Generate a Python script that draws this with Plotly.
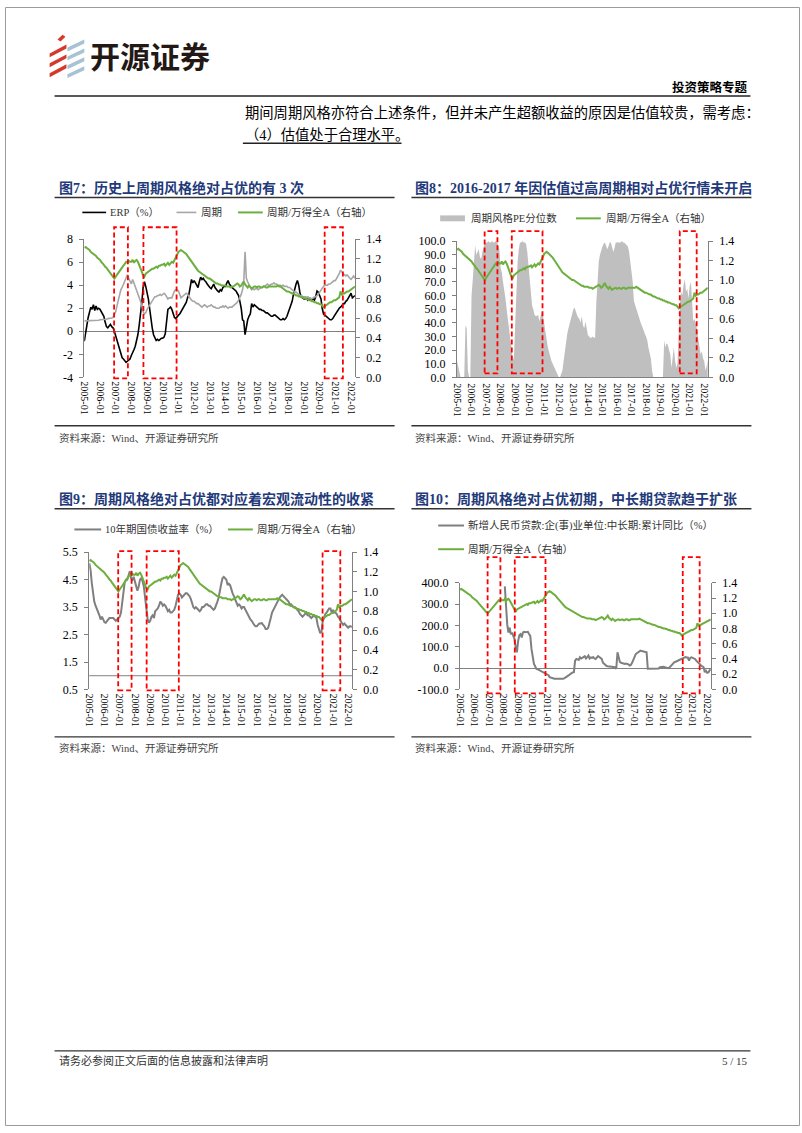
import plotly.graph_objects as go
import pandas as pd

W, H = 802, 1133
SERIF = "Liberation Serif, Noto Sans CJK SC, serif"
NAVY = "#1F3A7A"
GREEN = "#6DAF3E"
RED = "#FF0000"

# ---- data (monthly, 2005-01 .. 2022-04) ----
months = pd.date_range("2005-01-01", "2022-04-01", freq="MS")
years = list(range(2005, 2023))
tick_vals = [f"{y}-01-01" for y in years]
tick_text = [f"{y}-01" for y in years]

# 周期/万得全A (右轴) - same series in all four charts
ratio = [
    1.31, 1.32, 1.31, 1.30, 1.29, 1.27, 1.26, 1.25, 1.24, 1.23, 1.21, 1.20,
    1.19, 1.17, 1.16, 1.14, 1.12, 1.11, 1.09, 1.07, 1.05, 1.03, 1.01, 1.00,
    1.02, 1.04, 1.06, 1.08, 1.10, 1.12, 1.13, 1.15, 1.17, 1.16, 1.18, 1.17,
    1.17, 1.19, 1.16, 1.18, 1.19, 1.17, 1.14, 1.11, 1.07, 1.03, 1.02, 1.05,
    1.06, 1.07, 1.08, 1.09, 1.10, 1.10, 1.11, 1.12, 1.11, 1.13, 1.13, 1.14,
    1.14, 1.15, 1.13, 1.15, 1.16, 1.14, 1.15, 1.17, 1.16, 1.19, 1.22, 1.24,
    1.27, 1.28, 1.29, 1.28, 1.27, 1.26, 1.25, 1.23, 1.21, 1.19, 1.17, 1.15,
    1.13, 1.11, 1.10, 1.08, 1.07, 1.06, 1.05, 1.04, 1.03, 1.02, 1.01, 1.00,
    1.00, 0.99, 0.98, 0.97, 0.96, 0.95, 0.95, 0.94, 0.94, 0.93, 0.93, 0.93,
    0.93, 0.92, 0.92, 0.92, 0.91, 0.92, 0.92, 0.93, 0.94, 0.95, 0.94, 0.92,
    0.93, 0.95, 0.97, 0.94, 0.92, 0.91, 0.93, 0.91, 0.90, 0.91, 0.92, 0.92,
    0.91, 0.92, 0.92, 0.91, 0.91, 0.92, 0.92, 0.91, 0.91, 0.92, 0.92, 0.92,
    0.92, 0.92, 0.92, 0.92, 0.93, 0.92, 0.92, 0.91, 0.90, 0.89, 0.88, 0.87,
    0.87, 0.86, 0.86, 0.85, 0.85, 0.84, 0.83, 0.83, 0.82, 0.82, 0.81, 0.81,
    0.80, 0.80, 0.79, 0.79, 0.78, 0.78, 0.77, 0.77, 0.76, 0.76, 0.75, 0.75,
    0.74, 0.74, 0.73, 0.71, 0.72, 0.73, 0.74, 0.75, 0.76, 0.76, 0.77, 0.78,
    0.78, 0.79, 0.80, 0.81, 0.87, 0.84, 0.85, 0.85, 0.86, 0.87, 0.87, 0.88,
    0.89, 0.90, 0.91, 0.92,
]

# ERP (%)
erp = [
    -0.86, -0.3, 0.5, 1.2, 1.8, 2.1, 1.9, 2.3, 1.8, 2.2, 1.9, 2.0,
    1.9, 1.7, 1.6, 1.3, 0.8, 0.4, 0.3, 0.5, 0.6, 0.4, 0.3, 0.0,
    -0.4, -0.9, -1.3, -1.7, -2.0, -2.3, -2.4, -2.6, -2.7, -2.6, -2.5, -2.4,
    -2.1, -1.9, -1.6, -1.3, -0.9, -0.3, 0.5, 1.3, 2.5, 3.8, 4.3, 3.9,
    3.4, 2.8, 2.0, 1.0, 0.3, -0.3, -0.6, -0.8, -0.7, -0.8, -0.7, -0.6,
    -0.6, -0.5, -0.2, 0.9, 1.9, 2.0, 2.1, 1.9, 1.6, 1.2, 1.1, 1.3,
    1.4, 1.5, 1.7, 1.9, 2.2, 2.3, 2.5, 2.9, 3.2, 3.8, 4.5, 4.2,
    4.4, 4.2, 4.0, 3.8, 4.3, 4.7, 4.5, 4.6, 4.4, 4.3, 4.1, 3.9,
    3.8, 3.7, 3.9, 4.1, 3.8, 3.6, 3.5, 3.4, 3.6, 3.5, 3.8, 3.9,
    3.9, 4.2, 4.4, 4.1, 3.9, 3.8, 3.7, 3.6, 3.5, 3.3, 3.1, 2.6,
    2.0, 1.0, 0.9, -0.3, 0.4, 1.0, 1.3, 1.5, 2.4, 2.1, 2.3, 2.2,
    2.1, 2.0, 1.9, 1.9, 1.8, 1.8, 1.7, 1.6, 1.6, 1.5, 1.4, 1.3,
    1.3, 1.4, 1.4, 1.3, 1.2, 1.1, 1.0, 1.0, 1.1, 1.0, 1.1, 1.3,
    1.6, 1.9, 2.2, 2.6, 3.2, 3.8, 4.1, 4.4, 4.0, 3.3, 3.0, 2.9,
    2.8, 2.8, 2.9, 2.7, 2.8, 2.7, 2.7, 2.8, 2.7, 3.0, 3.5, 3.4,
    3.0, 2.8, 2.0, 1.5, 1.4, 1.3, 1.2, 1.1, 1.0, 1.0, 1.1, 1.3,
    1.5, 1.7, 1.8, 2.0, 2.1, 2.2, 2.4, 2.4, 2.6, 2.7, 2.9, 3.1,
    3.3, 2.9, 3.0, 3.1,
]

# 周期
cyc = [
    0.9, 0.9, 0.9, 0.9, 0.95, 0.9, 0.9, 0.9, 0.95, 0.9, 0.9, 0.95,
    1.0, 1.0, 1.0, 1.0, 1.05, 1.05, 1.1, 1.1, 1.1, 1.15, 1.2, 1.4,
    1.7, 2.2, 2.7, 3.3, 3.6, 3.8, 4.1, 4.4, 4.6, 4.9, 4.6, 4.3,
    4.1, 4.5, 4.2, 4.0, 3.6, 3.3, 3.0, 2.6, 2.2, 1.7, 1.5, 1.6,
    1.9, 2.1, 2.3, 2.5, 2.7, 2.9, 3.0, 3.0, 3.1, 3.1, 3.2, 3.1,
    3.2, 3.3, 3.2, 3.0, 2.8, 2.9, 2.9, 2.9, 3.2, 3.5, 3.6, 3.6,
    3.5, 3.2, 2.9, 3.0, 3.1, 3.2, 3.3, 3.2, 3.0, 2.8, 2.7, 2.6,
    2.6, 2.5, 2.4, 2.4, 2.3, 2.2, 2.1, 2.2, 2.3, 2.2, 2.1, 2.2,
    2.2, 2.3, 2.2, 2.1, 2.1, 2.0, 2.0, 2.0, 2.1, 2.1, 2.2, 2.1,
    2.2, 2.1, 2.0, 2.1, 2.1, 2.1, 2.2, 2.3, 2.4, 2.5, 2.7, 2.9,
    3.2, 3.6, 4.2, 6.9, 4.6, 4.3, 4.0, 3.8, 3.6, 3.7, 3.6, 3.7,
    3.7, 3.6, 3.7, 3.8, 3.8, 3.9, 3.9, 4.0, 4.1, 4.0, 4.0, 4.1,
    4.1, 4.2, 4.1, 4.1, 4.0, 4.0, 4.0, 3.9, 4.0, 3.9, 3.9, 3.9,
    3.8, 3.8, 3.7, 3.6, 3.5, 3.4, 3.4, 3.3, 3.2, 3.1, 3.1, 3.0,
    3.0, 3.0, 2.9, 3.0, 2.9, 2.9, 2.8, 2.9, 3.0, 3.0, 3.1, 3.2,
    3.4, 3.6, 3.8, 3.9, 4.0, 4.0, 4.0, 4.1, 4.1, 4.2, 4.3, 4.4,
    4.4, 4.6, 4.7, 5.0, 5.3, 5.1, 5.0, 4.9, 4.8, 4.9, 4.7, 4.6,
    4.5, 4.7, 4.8, 4.6,
]

# 周期风格PE分位数
pe_pct = [
    12, 8, 3, 0, 0, 0, 0, 38, 36, 5, 0, 0,
    60, 72, 85, 97, 90, 92, 94, 88, 87, 92, 97, 99,
    99, 99, 100, 99, 99, 100, 99, 99, 100, 99, 97, 94,
    80, 77, 70, 65, 58, 50, 41, 34, 28, 22, 12, 15,
    40, 60, 84, 94, 99, 99, 100, 99, 99, 98, 92, 82,
    70, 60, 53, 50, 46, 45, 45, 46, 41, 45, 48, 45,
    38, 34, 28, 22, 18, 15, 12, 10, 8, 7, 4, 2,
    0, 0, 2, 5, 12, 20, 26, 32, 36, 40, 44, 47,
    50, 51, 48, 46, 44, 43, 40, 45, 38, 36, 41, 35,
    31, 30, 29, 29, 30, 29, 29, 55, 77, 85, 90, 94,
    96, 98, 99, 97, 94, 96, 99, 99, 96, 92, 95, 99,
    99, 99, 99, 99, 100, 99, 99, 98, 97, 96, 92, 85,
    80, 70, 56, 53, 50, 48, 45, 41, 39, 37, 34, 32,
    30, 27, 22, 18, 14, 5, 0, 0, 0, 0, 0, 0,
    0, 0, 0, 27, 22, 25, 24, 20, 17, 7, 15, 22,
    12, 7, 10, 41, 55, 63, 60, 68, 72, 63, 65, 58,
    67, 70, 53, 41, 43, 40, 36, 29, 22, 17, 19, 14,
    12, 5, 8, 13,
]

# 10年期国债收益率 (%)
cgb10y = [
    5.1, 4.85, 4.4, 4.0, 3.7, 3.55, 3.45, 3.35, 3.2, 3.05, 3.15, 3.05,
    2.95, 2.93, 3.0, 3.05, 3.1, 3.1, 3.1, 3.1, 3.05, 3.0, 3.05, 3.1,
    3.15, 3.3, 3.6, 4.1, 4.4, 4.5, 4.5, 4.65, 4.8, 4.55, 4.5, 4.6,
    4.4, 4.2, 4.1, 4.25, 4.5, 4.55, 4.45, 4.25, 3.8, 3.4, 3.05, 2.93,
    3.0, 3.15, 3.2, 3.1, 3.35, 3.4, 3.45, 3.55, 3.7, 3.65, 3.55, 3.6,
    3.55, 3.45, 3.35, 3.4, 3.3, 3.3, 3.35, 3.4, 3.55, 3.8, 3.95, 4.0,
    3.95, 3.85, 3.9, 3.95, 4.0, 4.0, 3.95, 3.9, 3.8, 3.65, 3.5, 3.45,
    3.5, 3.45, 3.4, 3.35, 3.4, 3.5, 3.5, 3.55, 3.6, 3.6, 3.55, 3.55,
    3.5, 3.45, 3.4, 3.45, 3.55, 3.7, 3.85, 4.15, 4.35, 4.55, 4.6, 4.55,
    4.5, 4.3, 4.35, 4.3, 4.1, 4.0, 3.9, 3.8, 3.7, 3.55, 3.6, 3.55,
    3.45, 3.5, 3.5, 3.4, 3.3, 3.25, 3.15, 3.05, 3.0, 2.9, 2.85, 2.8,
    2.8, 2.85, 2.9, 2.9, 2.92, 2.85, 2.8, 2.7, 2.7, 2.75, 2.9, 3.1,
    3.3, 3.4, 3.5, 3.55, 3.7, 3.8, 3.85, 3.9, 3.95, 3.9, 3.85, 3.8,
    3.75, 3.7, 3.6, 3.6, 3.55, 3.5, 3.5, 3.45, 3.4, 3.35, 3.25, 3.2,
    3.15, 3.2, 3.25, 3.3, 3.2, 3.2, 3.15, 3.1, 3.15, 3.2, 3.15, 3.1,
    2.85, 2.65, 2.55, 2.6, 3.0, 3.1, 3.25, 3.3, 3.4, 3.45, 3.45, 3.3,
    3.4, 3.3, 3.3, 3.25, 3.15, 3.1, 3.0, 2.9, 2.85, 2.9, 2.85, 2.8,
    2.75, 2.8, 2.8, 2.77,
]

# 新增人民币贷款:企(事)业单位:中长期:累计同比 (%), starts 2008-02
loan_yoy = [None] * 37 + [
    383, 259, 205, 167, 190, 159, 167, 151, 136, 97, 74,
    128, 155, 159, 144, 167, 170, 168, 170, 170, 160, 151, 90,
    43, 20, 10, -3, -5, -8, -11, -14, -17, -19, -22, -25,
    -28, -33, -42, -45, -48, -49, -50, -50, -50, -51, -52, -52,
    -51, -50, -48, -45, -42, -38, -33, -28, -22, -20, -19, 35,
    43, 40, 38, 51, 45, 48, 52, 56, 45, 55, 59, 45,
    50, 48, 52, 45, 43, 50, 56, 52, 45, 43, 25, 20,
    12, 10, 9, 8, 8, 7, 6, 5, 4, -3, 74, 51,
    28, 25, 24, 20, 20, 22, 20, 18, 12, 15, 25, 40,
    51, 66, 70, 74, 78, 82, 80, 78, 77, 75, 74, -3,
    -3, -2, -3, -3, -2, -3, -1, 0, -2, 4, 5, 8,
    6, 4, 2, 0, 0, 3, 10, 15, 22, 28, 30, 33,
    35, 38, 43, 46, 48, 51, 52, 50, 50, 35, 48, 51,
    48, 46, 43, 35, 28, 22, 15, 12, 8, 5, -19, -12,
    -22, -20, -11, -5,
]

# 周期风格绝对占优区间 (fractional years)
periods = [(2006.90, 2007.78), (2008.77, 2010.88), (2020.32, 2021.48)]


def px(x):
    return x / W


def py(y):
    return 1 - y / H


def yr2date(f):
    y = int(f)
    return pd.Timestamp(year=y, month=1, day=1) + pd.Timedelta(days=(f - y) * 365.25)


fig = go.Figure()

# chart 7
fig.add_trace(go.Scatter(x=months, y=erp, xaxis="x", yaxis="y", mode="lines",
                         line=dict(color="black", width=1.6)))
fig.add_trace(go.Scatter(x=months, y=cyc, xaxis="x", yaxis="y", mode="lines",
                         line=dict(color="#A6A6A6", width=1.6)))
fig.add_trace(go.Scatter(x=months, y=ratio, xaxis="x", yaxis="y2", mode="lines",
                         line=dict(color=GREEN, width=2)))
# chart 8
fig.add_trace(go.Scatter(x=months, y=pe_pct, xaxis="x2", yaxis="y3", mode="lines",
                         fill="tozeroy", fillcolor="#BFBFBF", line=dict(width=0, color="#BFBFBF")))
fig.add_trace(go.Scatter(x=months, y=ratio, xaxis="x2", yaxis="y4", mode="lines",
                         line=dict(color=GREEN, width=2)))
# chart 9
fig.add_trace(go.Scatter(x=months, y=cgb10y, xaxis="x3", yaxis="y5", mode="lines",
                         line=dict(color="#7F7F7F", width=2)))
fig.add_trace(go.Scatter(x=months, y=ratio, xaxis="x3", yaxis="y6", mode="lines",
                         line=dict(color=GREEN, width=2)))
# chart 10
fig.add_trace(go.Scatter(x=months, y=loan_yoy, xaxis="x4", yaxis="y7", mode="lines",
                         line=dict(color="#7F7F7F", width=2)))
fig.add_trace(go.Scatter(x=months, y=ratio, xaxis="x4", yaxis="y8", mode="lines",
                         line=dict(color=GREEN, width=2)))


def xax(x0, x1, anchor, showline=False):
    return dict(domain=[px(x0), px(x1)], anchor=anchor, type="date",
                range=["2005-01-01", "2022-04-01"], tickvals=tick_vals, ticktext=tick_text,
                tickangle=90, tickfont=dict(family=SERIF, size=10, color="black"),
                showgrid=False, zeroline=False, showline=showline, linecolor="#808080",
                ticks="", ticklabelstandoff=3, fixedrange=True)


def yax(y0, y1, anchor, lo, hi, step, fmt, side="left", overlay=None, zeroline=False):
    vals = []
    n = int(round((hi - lo) / step))
    for i in range(n + 1):
        vals.append(round(lo + i * step, 6))
    d = dict(anchor=anchor, range=[lo, hi], tickvals=vals, ticktext=[fmt.format(v) for v in vals],
             side=side, showgrid=False, showline=True, linecolor="#808080", linewidth=1,
             ticks="outside", ticklen=4, tickcolor="#808080",
             tickfont=dict(family=SERIF, size=12, color="black"),
             zeroline=zeroline, zerolinecolor="#808080", zerolinewidth=1,
             ticklabelstandoff=4, fixedrange=True)
    if overlay:
        d["overlaying"] = overlay
    else:
        d["domain"] = [py(y1), py(y0)]
    return d


fig.update_layout(
    width=W, height=H, margin=dict(l=0, r=0, t=0, b=0),
    paper_bgcolor="white", plot_bgcolor="rgba(0,0,0,0)", showlegend=False,
    xaxis=xax(80, 353, "y"),
    yaxis=yax(235, 375, "x", -4, 8, 2, "{:g}", zeroline=True),
    yaxis2=yax(235, 375, "x", 0, 1.4, 0.2, "{:.1f}", side="right", overlay="y"),
    xaxis2=xax(456, 709, "y3", showline=True),
    yaxis3=yax(237, 375, "x2", 0, 100, 10, "{:.1f}"),
    yaxis4=yax(237, 375, "x2", 0, 1.4, 0.2, "{:.1f}", side="right", overlay="y3"),
    xaxis3=xax(85, 350, "y5"),
    yaxis5=yax(552, 691, "x3", 0.5, 5.5, 1.0, "{:.1f}"),
    yaxis6=yax(552, 691, "x3", 0, 1.4, 0.2, "{:.1f}", side="right", overlay="y5"),
    xaxis4=xax(459, 712, "y7"),
    yaxis7=yax(583, 691, "x4", -100, 400, 100, "{:.1f}", zeroline=True),
    yaxis8=yax(583, 691, "x4", 0, 1.4, 0.2, "{:.1f}", side="right", overlay="y7"),
)

shapes = []
ann = []


def hline(x0, x1, y, color="#333333", width=1.5, dash=None):
    shapes.append(dict(type="line", xref="paper", yref="paper", x0=px(x0), x1=px(x1),
                       y0=py(y), y1=py(y), line=dict(color=color, width=width, dash=dash)))


def text(x, y, s, size=11, color="black", anchor="left", family=SERIF):
    ann.append(dict(x=px(x), y=py(y), xref="paper", yref="paper", text=s, showarrow=False,
                    xanchor=anchor, yanchor="middle", font=dict(family=family, size=size, color=color)))


def poly(points, color):
    p = "M " + " L ".join(f"{px(a):.5f},{py(b):.5f}" for a, b in points) + " Z"
    shapes.append(dict(type="path", xref="paper", yref="paper", path=p,
                       fillcolor=color, line=dict(width=0)))


# page border
shapes.append(dict(type="rect", xref="paper", yref="paper", x0=px(0.5), x1=px(801.5),
                   y0=py(1132.5), y1=py(0.5), line=dict(color="#9A9A9A", width=1)))

# header logo
poly([(53, 33), (58, 28), (61, 30), (56, 35)], "#D8382C")
for i in range(3):
    y0 = 38 + 10 * i
    poly([(45, y0 + 9), (62, y0), (62, y0 + 4), (45, y0 + 13)], "#D8382C")
for i in range(4):
    y0 = 33 + 9 * i
    poly([(63, y0 + 8), (80, y0), (80, y0 + 4), (63, y0 + 12)], "#A7C3D3")
text(84, 49, "<b>开源证券</b>", size=30, color="#231815", family="Noto Sans CJK SC")
text(752, 82, "<b>投资策略专题</b>", size=12.5, anchor="right")
hline(50, 752, 90, color="#5A5A5A", width=2)
text(240, 107, "期间周期风格亦符合上述条件，但并未产生超额收益的原因是估值较贵，需考虑：", size=14.3)
text(240, 130, "（4）估值处于合理水平。", size=14.3)
hline(240, 400, 138, color="#222222", width=1.5)

# chart titles
text(52, 183, "<b>图7：历史上周期风格绝对占优的有 3 次</b>", size=14, color=NAVY)
text(412, 183, "<b>图8：2016-2017 年因估值过高周期相对占优行情未开启</b>", size=14, color=NAVY)
text(52, 498, "<b>图9：周期风格绝对占优都对应着宏观流动性的收紧</b>", size=14, color=NAVY)
text(412, 498, "<b>图10：周期风格绝对占优初期，中长期贷款趋于扩张</b>", size=14, color=NAVY)
hline(50, 393, 193)
hline(410, 753, 193)
hline(50, 393, 508)
hline(410, 753, 508)

# legends
LG = "#333333"
hline(78, 102, 208, color="black", width=1.6)
text(104, 208, "ERP（%）", size=10.5, color=LG)
hline(173, 193, 208, color="#A6A6A6", width=1.6)
text(196, 208, "周期", size=10.5, color=LG)
hline(235, 260, 208, color=GREEN, width=2)
text(262, 208, "周期/万得全A（右轴）", size=10.5, color=LG)

shapes.append(dict(type="rect", xref="paper", yref="paper", x0=px(439), x1=px(464),
                   y0=py(217), y1=py(211), fillcolor="#BFBFBF", line=dict(width=0)))
text(468, 214, "周期风格PE分位数", size=10.5, color=LG)
hline(576, 601, 214, color=GREEN, width=2)
text(604, 214, "周期/万得全A（右轴）", size=10.5, color=LG)

hline(70, 97, 529, color="#7F7F7F", width=2)
text(99, 529, "10年期国债收益率（%）", size=10.5, color=LG)
hline(225, 250, 529, color=GREEN, width=2)
text(252, 529, "周期/万得全A（右轴）", size=10.5, color=LG)

hline(437, 463, 525, color="#7F7F7F", width=2)
text(465, 525, "新增人民币贷款:企(事)业单位:中长期:累计同比（%）", size=10.5, color=LG)
hline(437, 463, 549, color=GREEN, width=2)
text(465, 549, "周期/万得全A（右轴）", size=10.5, color=LG)

# chart 9 category axis crosses at 1.0
shapes.append(dict(type="line", xref="x3 domain", yref="y5", x0=0, x1=1, y0=1.0, y1=1.0,
                   layer="below", line=dict(color="#808080", width=1)))

# red dashed boxes
box_rows = [("x", 223, 376), ("x2", 227, 371), ("x3", 551, 692), ("x4", 557, 695)]
for xr, top, bot in box_rows:
    for a, b in periods:
        shapes.append(dict(type="rect", xref=xr, yref="paper", x0=yr2date(a), x1=yr2date(b),
                           y0=py(bot), y1=py(top),
                           line=dict(color=RED, width=1.8, dash="5px,3px")))

# sources
for x0, x1, ly, ty in [(50, 393, 424, 436), (410, 753, 424, 436), (50, 393, 739, 750), (410, 753, 739, 750)]:
    hline(x0, x1, ly, color="#333333", width=1.3)
    text(x0 + 2, ty, "资料来源：Wind、开源证券研究所", size=10.5, color="#444444")

# footer
hline(50, 752, 1057, color="#333333", width=1.3)
text(52, 1067, "请务必参阅正文后面的信息披露和法律声明", size=11, color="#333333")
text(752, 1067, "5 / 15", size=11, color="#333333", anchor="right")

fig.update_layout(shapes=shapes, annotations=ann)
fig.write_html("out.html", config={"displayModeBar": False},
               post_script="document.body.style.margin='0';document.body.style.overflow='hidden';")
